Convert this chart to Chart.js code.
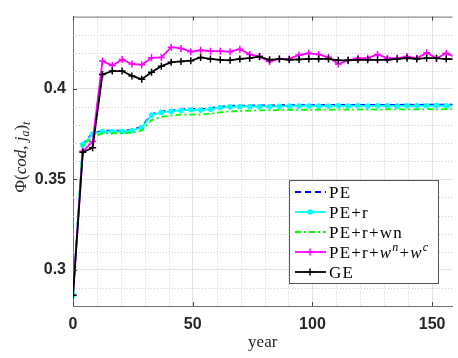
<!DOCTYPE html>
<html>
<head>
<meta charset="utf-8">
<script src="https://cdn.jsdelivr.net/npm/chart.js@4.4.0/dist/chart.umd.min.js"></script>
<style>
html, body { margin: 0; padding: 0; background: #fff; }
#wrap { width: 458px; height: 358px; }
</style>
</head>
<body>
<div id="wrap"><canvas id="phiChart" width="458" height="358"></canvas></div>
<script>
// x positions of the samples (years)
const years = [0, 4.1, 8.2, 12.3, 16.4, 20.5, 24.6, 28.7, 32.8, 36.9,
    41, 45.1, 49.2, 53.3, 57.4, 61.5, 65.6, 69.7, 73.8, 77.9,
    82.1, 86.2, 90.3, 94.4, 98.5, 102.6, 106.7, 110.8, 114.9, 119,
    123.1, 127.2, 131.3, 135.4, 139.5, 143.6, 147.7, 151.8, 155.9, 160];

const pe = [0.286, 0.3695, 0.3755, 0.3768, 0.377, 0.377, 0.3773, 0.3792, 0.386, 0.3876,
    0.3881, 0.3886, 0.389, 0.3889, 0.3894, 0.3902, 0.3906, 0.3908, 0.3908, 0.3909,
    0.3909, 0.391, 0.391, 0.3911, 0.3911, 0.3911, 0.3912, 0.3912, 0.3911, 0.3912,
    0.3912, 0.3912, 0.3912, 0.3912, 0.3913, 0.3912, 0.3913, 0.3913, 0.3913, 0.3913];

const peR = [0.286, 0.3692, 0.3751, 0.3764, 0.3765, 0.3765, 0.3769, 0.3787, 0.3856, 0.3871,
    0.3876, 0.3881, 0.3885, 0.3883, 0.3888, 0.3897, 0.3901, 0.3903, 0.3903, 0.3903,
    0.3903, 0.3904, 0.3905, 0.3906, 0.3906, 0.3905, 0.3906, 0.3907, 0.3906, 0.3907,
    0.3906, 0.3907, 0.3907, 0.3906, 0.3907, 0.3907, 0.3907, 0.3908, 0.3907, 0.3908];

const peRWn = [0.286, 0.369, 0.3733, 0.3755, 0.3755, 0.3755, 0.3757, 0.377, 0.3828, 0.3845,
    0.3853, 0.3858, 0.3858, 0.3858, 0.3864, 0.3871, 0.3876, 0.3877, 0.388, 0.3881,
    0.3881, 0.3884, 0.3885, 0.3885, 0.3885, 0.3886, 0.3885, 0.3886, 0.3886, 0.3886,
    0.3887, 0.3886, 0.3887, 0.3887, 0.3887, 0.3887, 0.3888, 0.3887, 0.3888, 0.3888];

const peRWnWc = [0.286, 0.3655, 0.371, 0.4154, 0.413, 0.4163, 0.4138, 0.4134, 0.4172, 0.4174,
    0.4231, 0.4224, 0.4206, 0.4214, 0.4209, 0.4209, 0.4206, 0.422, 0.4191, 0.4179,
    0.4152, 0.4166, 0.4166, 0.4188, 0.4197, 0.4191, 0.4175, 0.4138, 0.4158, 0.417,
    0.417, 0.4191, 0.417, 0.417, 0.4179, 0.417, 0.42, 0.417, 0.4197, 0.4175];

const ge = [0.286, 0.365, 0.3675, 0.408, 0.4099, 0.4099, 0.4072, 0.4054, 0.4092, 0.4126,
    0.4147, 0.4152, 0.4156, 0.4174, 0.4166, 0.4161, 0.4158, 0.4166, 0.417, 0.4179,
    0.4161, 0.4166, 0.4161, 0.4163, 0.4166, 0.4166, 0.4166, 0.4158, 0.4158, 0.4161,
    0.4161, 0.4161, 0.4161, 0.4166, 0.417, 0.4166, 0.417, 0.417, 0.4165, 0.4165];

// axis ticks and minor grid
const xTicks = [0, 50, 100, 150];
const yTicks = [0.3, 0.35, 0.4];
const xMinor = [10, 20, 30, 40, 60, 70, 80, 90, 110, 120, 130, 140];
const yMinor = [0.29, 0.31, 0.32, 0.33, 0.34, 0.36, 0.37, 0.38, 0.39, 0.41, 0.42, 0.43];

const serif = '"Liberation Serif", "Times New Roman", serif';

function points(values) {
    return years.map((yr, i) => ({ x: yr, y: values[i] }));
}

// draws a run of text pieces (for sub/superscripts), returns end x
function drawRuns(ctx, runs, x, y) {
    runs.forEach(r => {
        ctx.font = r.font;
        ctx.fillText(r.text, x, y + (r.dy || 0));
        x += ctx.measureText(r.text).width;
    });
    return x;
}

function runsWidth(ctx, runs) {
    let w = 0;
    runs.forEach(r => { ctx.font = r.font; w += ctx.measureText(r.text).width; });
    return w;
}

const rom = '17px ' + serif;
const ita = 'italic 17px ' + serif;
const supI = 'italic 12px ' + serif;

const legendRows = [
    { color: '#0000ff', dash: [6, 4], marker: null, runs: [{ text: 'PE', font: rom }] },
    { color: '#00ffff', dash: [], marker: 'dot', runs: [{ text: 'PE+r', font: rom }] },
    { color: '#00ff00', dash: [6, 3, 2, 3], marker: null, runs: [{ text: 'PE+r+wn', font: rom }] },
    { color: '#ff00ff', dash: [], marker: 'cross', runs: [
        { text: 'PE+r+', font: rom }, { text: 'w', font: ita }, { text: 'n', font: supI, dy: -7 },
        { text: '+', font: rom }, { text: 'w', font: ita }, { text: 'c', font: supI, dy: -7 }] },
    { color: '#000000', dash: [], marker: 'cross', runs: [{ text: 'GE', font: rom }] }
];

const decorPlugin = {
    id: 'decor',
    beforeDatasetsDraw(chart) {
        const { ctx, chartArea: a, scales: { x, y } } = chart;
        ctx.save();
        ctx.strokeStyle = '#cfcfcf';
        ctx.lineWidth = 1;
        ctx.setLineDash([1, 2]);
        xMinor.forEach(v => {
            const px = Math.round(x.getPixelForValue(v)) + 0.5;
            ctx.beginPath(); ctx.moveTo(px, a.top); ctx.lineTo(px, a.bottom); ctx.stroke();
        });
        yMinor.forEach(v => {
            const py = Math.round(y.getPixelForValue(v)) + 0.5;
            ctx.beginPath(); ctx.moveTo(a.left, py); ctx.lineTo(a.right, py); ctx.stroke();
        });
        ctx.restore();
    },
    afterDraw(chart) {
        const { ctx, chartArea: a, scales: { x, y } } = chart;
        ctx.save();

        // top border and inward tick marks
        ctx.strokeStyle = '#707070';
        ctx.lineWidth = 1;
        ctx.beginPath(); ctx.moveTo(a.left, a.top + 0.5); ctx.lineTo(a.right, a.top + 0.5); ctx.stroke();
        ctx.strokeStyle = '#444';
        xTicks.forEach(v => {
            const px = Math.round(x.getPixelForValue(v)) + 0.5;
            ctx.beginPath(); ctx.moveTo(px, a.bottom); ctx.lineTo(px, a.bottom - 4); ctx.stroke();
            ctx.beginPath(); ctx.moveTo(px, a.top); ctx.lineTo(px, a.top + 4); ctx.stroke();
        });
        yTicks.forEach(v => {
            const py = Math.round(y.getPixelForValue(v)) + 0.5;
            ctx.beginPath(); ctx.moveTo(a.left, py); ctx.lineTo(a.left + 4, py); ctx.stroke();
        });

        // axis titles
        ctx.fillStyle = '#262626';
        ctx.textBaseline = 'alphabetic';
        ctx.font = '17px ' + serif;
        ctx.textAlign = 'center';
        ctx.fillText('year', (a.left + a.right) / 2, 347);

        ctx.textAlign = 'left';
        const yRuns = [
            { text: 'Φ(', font: rom }, { text: 'cod', font: ita }, { text: ', ', font: rom },
            { text: 'j', font: ita }, { text: 'a', font: supI, dy: 3 },
            { text: ')', font: rom }, { text: 't', font: supI, dy: 4 }
        ];
        ctx.translate(26, 157);
        ctx.rotate(-Math.PI / 2);
        drawRuns(ctx, yRuns, -runsWidth(ctx, yRuns) / 2, 0);
        ctx.setTransform(1, 0, 0, 1, 0, 0);

        // legend
        const bx = 289.5, by = 180.5, bw = 149, bh = 103;
        ctx.fillStyle = '#ffffff';
        ctx.fillRect(bx, by, bw, bh);
        ctx.strokeStyle = '#555';
        ctx.lineWidth = 1;
        ctx.strokeRect(bx, by, bw, bh);
        legendRows.forEach((row, i) => {
            const ry = 192 + i * 20;
            ctx.strokeStyle = row.color;
            ctx.lineWidth = 1.8;
            ctx.setLineDash(row.dash);
            ctx.beginPath(); ctx.moveTo(295, ry); ctx.lineTo(326, ry); ctx.stroke();
            ctx.setLineDash([]);
            if (row.marker === 'dot') {
                ctx.fillStyle = row.color;
                ctx.beginPath(); ctx.arc(310, ry, 2.8, 0, Math.PI * 2); ctx.fill();
            } else if (row.marker === 'cross') {
                ctx.lineWidth = 1.5;
                ctx.beginPath();
                ctx.moveTo(306.5, ry); ctx.lineTo(313.5, ry);
                ctx.moveTo(310, ry - 3.5); ctx.lineTo(310, ry + 3.5);
                ctx.stroke();
            }
            ctx.fillStyle = '#000';
            ctx.letterSpacing = '1.2px';
            drawRuns(ctx, row.runs, 329, ry + 6);
            ctx.letterSpacing = '0px';
        });
        ctx.restore();
    }
};

const tickFont = { family: '"Liberation Sans", Arial, sans-serif', size: 16, weight: 'bold' };

let ctx = document.getElementById('phiChart').getContext('2d');

let phiChart = new Chart(ctx, {
    type: 'line',
    data: {
        datasets: [{
            label: 'PE',
            data: points(pe),
            borderColor: '#0000ff',
            borderDash: [6, 4],
            borderWidth: 1.8,
            pointRadius: 0,
            order: 4
        }, {
            label: 'PE+r',
            data: points(peR),
            borderColor: '#00ffff',
            backgroundColor: '#00ffff',
            borderWidth: 1.8,
            pointRadius: 2.8,
            pointBorderWidth: 0,
            pointBackgroundColor: '#00ffff',
            order: 3
        }, {
            label: 'PE+r+wn',
            data: points(peRWn),
            borderColor: '#00ff00',
            borderDash: [6, 3, 2, 3],
            borderWidth: 1.8,
            pointRadius: 0,
            order: 2
        }, {
            label: 'PE+r+w^n+w^c',
            data: points(peRWnWc),
            borderColor: '#ff00ff',
            borderWidth: 1.8,
            pointStyle: 'cross',
            pointRadius: 3.5,
            pointBorderWidth: 1.5,
            pointBorderColor: '#ff00ff',
            order: 1
        }, {
            label: 'GE',
            data: points(ge),
            borderColor: '#000000',
            borderWidth: 1.8,
            pointStyle: 'cross',
            pointRadius: 3.5,
            pointBorderWidth: 1.5,
            pointBorderColor: '#000000',
            order: 0
        }]
    },
    options: {
        responsive: false,
        animation: false,
        layout: { padding: { top: 7, left: 0, right: 0, bottom: 0 } },
        plugins: {
            legend: { display: false },
            tooltip: { enabled: false }
        },
        scales: {
            x: {
                type: 'linear',
                min: 0,
                max: 158.5,
                afterBuildTicks: (s) => { s.ticks = xTicks.map(v => ({ value: v })); },
                afterFit: (s) => { s.height = 52; },
                ticks: { font: tickFont, color: '#262626', padding: 9, maxRotation: 0 },
                grid: { color: '#e2e2e2', drawTicks: false },
                border: { color: '#707070' }
            },
            y: {
                min: 0.28,
                max: 0.44,
                afterBuildTicks: (s) => { s.ticks = yTicks.map(v => ({ value: v })); },
                afterFit: (s) => { s.width = 73; },
                ticks: {
                    font: tickFont, color: '#262626', padding: 7,
                    callback: (v) => String(Math.round(v * 100) / 100)
                },
                grid: { color: '#e2e2e2', drawTicks: false },
                border: { color: '#707070' }
            }
        }
    },
    plugins: [decorPlugin]
});
</script>
</body>
</html>
